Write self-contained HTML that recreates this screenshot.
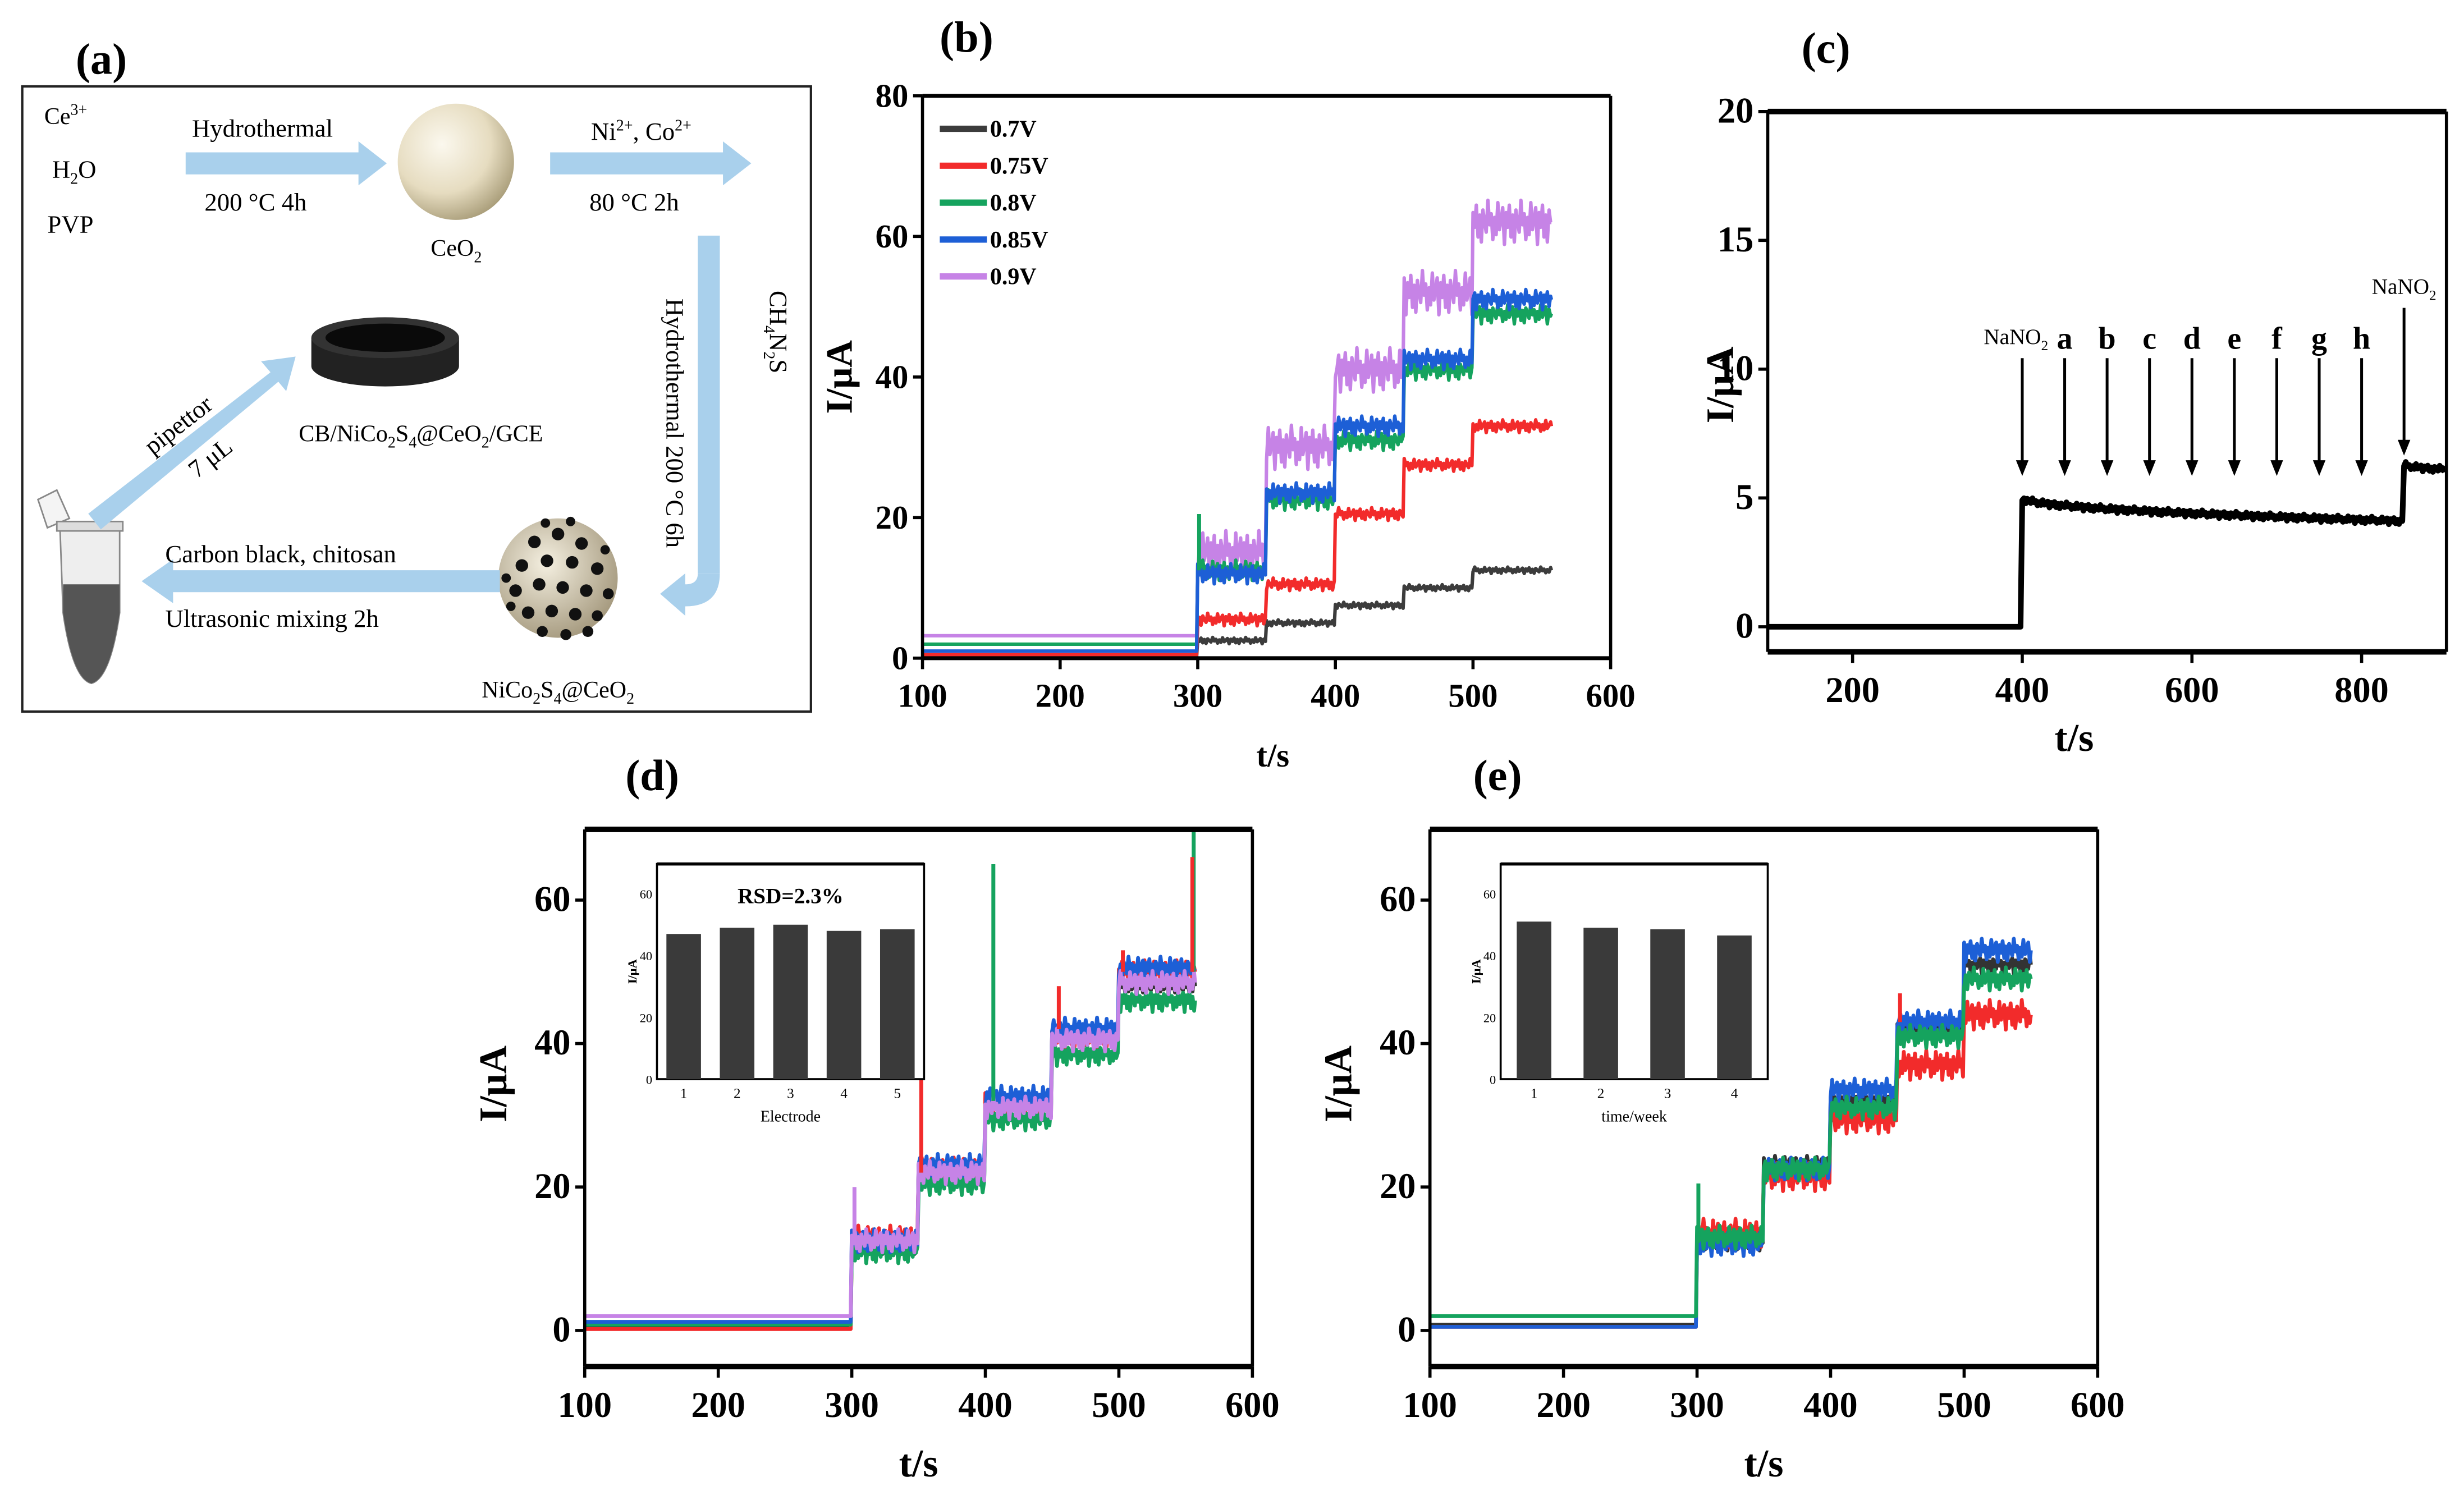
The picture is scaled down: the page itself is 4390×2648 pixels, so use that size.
<!DOCTYPE html>
<html><head><meta charset="utf-8">
<style>
html,body{margin:0;padding:0;background:#fff;}
svg{display:block;}
text{font-family:"Liberation Serif",serif;}
</style></head>
<body>
<svg id="fig" width="4390" height="2648" viewBox="0 0 1568 946" xmlns="http://www.w3.org/2000/svg">
<defs>
<radialGradient id="ceo2" cx="0.38" cy="0.35" r="0.7">
<stop offset="0" stop-color="#fbf8ee"/><stop offset="0.6" stop-color="#e6dcc0"/><stop offset="1" stop-color="#a89c78"/>
</radialGradient>
<radialGradient id="nico" cx="0.4" cy="0.38" r="0.7">
<stop offset="0" stop-color="#f4efe0"/><stop offset="1" stop-color="#a09478"/>
</radialGradient>
</defs>

<!-- Panel (a) schematic -->
<g>
<text x="48" y="47" font-size="28" font-weight="bold">(a)</text>
<rect x="14" y="55" width="502" height="398" fill="none" stroke="#222" stroke-width="1.5"/>
<text x="28" y="79" font-size="15">Ce<tspan dy="-6" font-size="10">3+</tspan></text>
<text x="33" y="113" font-size="16">H<tspan dy="4" font-size="10">2</tspan><tspan dy="-4">O</tspan></text>
<text x="30" y="148" font-size="16">PVP</text>
<text x="122" y="87" font-size="16">Hydrothermal</text>
<polygon points="118,97 228,97 228,90 246,104 228,118 228,111 118,111" fill="#a9d0ec"/>
<text x="130" y="134" font-size="16">200 °C  4h</text>
<circle cx="290" cy="103" r="37" fill="url(#ceo2)"/>
<text x="274" y="163" font-size="15">CeO<tspan dy="4" font-size="10">2</tspan></text>
<text x="376" y="89" font-size="16">Ni<tspan dy="-6" font-size="10">2+</tspan><tspan dy="6">, Co</tspan><tspan dy="-6" font-size="10">2+</tspan></text>
<polygon points="350,97 460,97 460,90 478,104 460,118 460,111 350,111" fill="#a9d0ec"/>
<text x="375" y="134" font-size="16">80 °C  2h</text>
<rect x="444" y="150" width="14" height="215" fill="#a9d0ec"/>
<path d="M444,365 Q444,372 436,372 L436,365 L420,378 L436,392 L436,386 Q458,386 458,365 Z" fill="#a9d0ec"/>
<text transform="translate(424,190) rotate(90)" font-size="16">Hydrothermal  200 °C  6h</text>
<text transform="translate(490,185) rotate(90)" font-size="16">CH<tspan dy="4" font-size="10">4</tspan><tspan dy="-4">N</tspan><tspan dy="4" font-size="10">2</tspan><tspan dy="-4">S</tspan></text>
<g>
<circle cx="355" cy="368" r="38" fill="url(#nico)"/>
<g fill="#111">
<circle cx="340" cy="345" r="4"/><circle cx="355" cy="340" r="4"/><circle cx="370" cy="346" r="4"/><circle cx="332" cy="360" r="4"/>
<circle cx="348" cy="357" r="4"/><circle cx="364" cy="358" r="4"/><circle cx="380" cy="362" r="4"/><circle cx="328" cy="376" r="4"/>
<circle cx="343" cy="372" r="4"/><circle cx="358" cy="374" r="4"/><circle cx="373" cy="376" r="4"/><circle cx="387" cy="378" r="3.5"/>
<circle cx="336" cy="390" r="4"/><circle cx="351" cy="389" r="4"/><circle cx="366" cy="391" r="4"/><circle cx="380" cy="392" r="3.5"/>
<circle cx="345" cy="402" r="3.5"/><circle cx="360" cy="404" r="3.5"/><circle cx="374" cy="402" r="3.5"/><circle cx="322" cy="368" r="3"/>
<circle cx="347" cy="333" r="3"/><circle cx="363" cy="332" r="3"/><circle cx="385" cy="350" r="3"/><circle cx="325" cy="386" r="3"/>
</g></g>
<text x="355" y="444" font-size="15" text-anchor="middle">NiCo<tspan dy="4" font-size="10">2</tspan><tspan dy="-4">S</tspan><tspan dy="4" font-size="10">4</tspan><tspan dy="-4">@CeO</tspan><tspan dy="4" font-size="10">2</tspan></text>
<polygon points="318,363 110,363 110,356 90,370 110,384 110,377 318,377" fill="#a9d0ec"/>
<text x="105" y="358" font-size="16">Carbon black, chitosan</text>
<text x="105" y="399" font-size="16">Ultrasonic mixing  2h</text>
<g>
<path d="M24,318 L36,312 L44,330 L30,336 Z" fill="#f4f4f4" stroke="#888" stroke-width="1"/>
<path d="M38,336 L76,336 L76,390 Q70,432 58,435 Q46,432 40,390 Z" fill="#eee" stroke="#888" stroke-width="1"/>
<path d="M40,372 L76,372 L76,390 Q70,432 58,435 Q46,432 40,390 Z" fill="#555"/>
<rect x="36" y="332" width="42" height="6" fill="#ddd" stroke="#888" stroke-width="1"/>
</g>
<polygon points="56,327 172,237 166,230 188,227 182,249 177,243 64,337" fill="#a9d0ec"/>
<text transform="translate(97,290) rotate(-38)" font-size="16">pipettor</text>
<text transform="translate(125,305) rotate(-38)" font-size="16">7 μL</text>
<g>
<path d="M198,215 L198,233 A47,13 0 0 0 292,233 L292,215 Z" fill="#222"/>
<ellipse cx="245" cy="215" rx="47" ry="13" fill="#333"/>
<ellipse cx="245" cy="215" rx="38" ry="9" fill="#0a0a0a"/>
</g>
<text x="190" y="281" font-size="15">CB/NiCo<tspan dy="4" font-size="10">2</tspan><tspan dy="-4">S</tspan><tspan dy="4" font-size="10">4</tspan><tspan dy="-4">@CeO</tspan><tspan dy="4" font-size="10">2</tspan><tspan dy="-4">/GCE</tspan></text>
</g>

<g id="charts"></g>
</svg>

<script>
// ---------- data ----------
const NOISE = [0.2,-0.5,0.8,-0.3,0.1,0.6,-0.9,0.4,-0.2,0.7,-0.6,0.3,-0.8,0.5,0.0,-0.4,0.9,-0.1,0.35,-0.7];

// panel b
const bStepTimes = [100,300,350,400,450,500,557];
const bSeriesNames = ['0.7V','0.75V','0.8V','0.85V','0.9V'];
const bLevels07 = [0.3,2.5,5,7.5,10,12.5];
const bLevels075 = [0.5,5.5,10.5,20.5,27.5,33];
const bLevels08 = [2,12.5,22.5,31,41,49];
const bLevels085 = [1,12,23.5,33,42.5,51];
const bLevels09 = [3.2,15,30,41,52,62];
const bNoise = [0.5,1,1.6,1.6,3.5];
const bYTicks = [0,20,40,60,80];
const bXTicks = [100,200,300,400,500,600];

// panel c
const cStepTimes = [100,400,850,900];
const cLevelStart = [0,5,6.3];
const cLevelEnd = [0,4.1,6.1];
const cArrowTimes = [400,450,500,550,600,650,700,750,800,850];
const cArrowLabels = ['NaNO2','a','b','c','d','e','f','g','h','NaNO2'];
const cYTicks = [0,5,10,15,20];
const cXTicks = [200,400,600,800];

// panel d
const dStepTimes = [100,300,350,400,450,500,557];
const dLevelsBlack = [0.5,12,22,31,41,48];
const dLevelsRed = [0.2,13,22.5,31.5,41,50];
const dLevelsGreen = [0.8,11,20.5,29.5,38.5,46];
const dLevelsBlue = [1.2,12.5,23,32.5,42,50.5];
const dLevelsPurple = [2,12.5,22,31,40.5,48.5];
const dInsetCats = ['1','2','3','4','5'];
const dInsetVals = [47,49,50,48,48.5];

// panel e
const eStepTimes = [100,300,350,400,450,500,550];
const eLevelsBlack = [0.8,12.5,23,32,42,51];
const eLevelsRed = [0.5,13.5,21.5,29.5,37,44];
const eLevelsBlue = [0.5,12,22.5,33.5,43,53];
const eLevelsGreen = [2,13,22.5,31,41,49];
const eInsetCats = ['1','2','3','4'];
const eInsetVals = [51,49,48.5,46.5];

const DEYTicks = [0,20,40,60];
const DEXTicks = [100,200,300,400,500,600];
const insetYTicks = [0,20,40,60];

// ---------- helpers ----------
const NS = 'http://www.w3.org/2000/svg';
const root = document.getElementById('charts');
function mk(tag, attrs, parent){
  const e = document.createElementNS(NS, tag);
  for (const k in attrs) e.setAttribute(k, attrs[k]);
  (parent||root).appendChild(e);
  return e;
}
function scale(d0,d1,r0,r1){ return v => r0 + (v-d0)/(d1-d0)*(r1-r0); }

function stepPath(times, levels, amp, xs, ys, dt, seed){
  let d = '';
  let i = seed;
  for (let s=0; s<levels.length; s++){
    const a = s===0 ? 0 : amp;
    for (let t=times[s]; t<times[s+1]; t+=dt){
      const v = levels[s] + a*NOISE[i%NOISE.length];
      i++;
      d += (d ? 'L' : 'M') + xs(t).toFixed(1) + ',' + ys(v).toFixed(1);
    }
  }
  const last = levels[levels.length-1];
  d += 'L' + xs(times[times.length-1]).toFixed(1) + ',' + ys(last).toFixed(1);
  return d;
}

function axesFrame(g, L, R, T, B, thick){
  let e;
  e = mk('line',{x1:L,y1:T,x2:R,y2:T,stroke:'#000','stroke-width':thick},g);
  
  
  e = mk('line',{x1:L,y1:B,x2:R,y2:B,stroke:'#000','stroke-width':thick},g);
  
  
  e = mk('line',{x1:L,y1:T,x2:L,y2:B,stroke:'#000','stroke-width':2},g);
  
  
  e = mk('line',{x1:R,y1:T,x2:R,y2:B,stroke:'#000','stroke-width':2},g);
  
  
}
function xTicksDraw(g, ticks, xs, B, ly, fs){
  ticks.forEach(t=>{
    let e = mk('line',{x1:xs(t),y1:B,x2:xs(t),y2:B+7,stroke:'#000','stroke-width':2},g);
    
    
    e = mk('text',{x:xs(t),y:ly,'font-size':fs,'font-weight':'bold','text-anchor':'middle'},g);
    e.textContent = t;
    
    
  });
}
function yTicksDraw(g, ticks, ys, L, fs){
  ticks.forEach(t=>{
    let e = mk('line',{x1:L-6,y1:ys(t),x2:L,y2:ys(t),stroke:'#000','stroke-width':2},g);
    
    
    e = mk('text',{x:L-9,y:ys(t)+7,'font-size':fs,'font-weight':'bold','text-anchor':'end'},g);
    e.textContent = t;
    
    
  });
}
function label(g, x, y, txt, fs, rot, name){
  const e = mk('text',{x:x,y:y,'font-size':fs,'font-weight':'bold','text-anchor':'middle'},g);
  if (rot) e.setAttribute('transform','rotate(-90 '+x+' '+y+')');
  e.textContent = txt;
  
  
  return e;
}

// ---------- panel b ----------
(function(){
  const g = mk('g',{});
  
  
  const L=587,R=1025,T=61,B=419;
  const xs = scale(100,600,L,R), ys = scale(0,80,B,T);
  label(g,615,33,'(b)',28,false,'panel-b-label');
  const cols = ['#3c3c3c','#f22b2b','#15a35e','#1d5fd6','#c683e6'];
  const lv = [bLevels07,bLevels075,bLevels08,bLevels085,bLevels09];
  [4,0,1,2,3].forEach((k)=>{
    const p = mk('path',{d:stepPath(bStepTimes,lv[k],bNoise[k],xs,ys,1.2,k*3),fill:'none',stroke:cols[k],'stroke-width':2.2,'stroke-linejoin':'round'},g);
    
    
  });
  let sp = mk('line',{x1:xs(301),y1:ys(12.5),x2:xs(301),y2:ys(20.5),stroke:'#15a35e','stroke-width':2.5},g);
  
  
  axesFrame(g,L,R,T,B,2.5);
  xTicksDraw(g,bXTicks,xs,B,450,21);
  yTicksDraw(g,bYTicks,ys,L,21);
  label(g,810,488,'t/s',21,false,'x-axis-title');
  label(g,542,240,'I/μA',24,true,'y-axis-title');
  bSeriesNames.forEach((n,k)=>{
    const y = 82 + k*23.5;
    let e = mk('line',{x1:598,y1:y,x2:628,y2:y,stroke:cols[k],'stroke-width':4},g);
    
    
    e = mk('text',{x:630,y:y+5,'font-size':15,'font-weight':'bold'},g);
    e.textContent = n;
    
    
  });
})();

// ---------- panel c ----------
(function(){
  const g = mk('g',{});
  
  
  const L=1125,R=1557,T=71,B=415;
  const xs = scale(100,900,L,R), ys = scale(0,20,399,T);
  label(g,1162,40,'(c)',28,false,'panel-c-label');
  let d='', i=0;
  for (let s=0;s<cLevelStart.length;s++){
    const t0=cStepTimes[s], t1=cStepTimes[s+1];
    for (let t=t0;t<t1;t+=2){
      const f=(t-t0)/(t1-t0);
      const base = cLevelStart[s] + (cLevelEnd[s]-cLevelStart[s])*Math.sqrt(f);
      const v = base + (s===0?0:0.15*NOISE[i%NOISE.length]); i++;
      d += (d?'L':'M')+xs(t).toFixed(1)+','+ys(v).toFixed(1);
    }
  }
  const p = mk('path',{d:d,fill:'none',stroke:'#000','stroke-width':3.6,'stroke-linejoin':'round'},g);
  
  
  axesFrame(g,L,R,T,B,3.5);
  xTicksDraw(g,cXTicks,xs,B,447,23);
  yTicksDraw(g,cYTicks,ys,L,23);
  label(g,1320,478,'t/s',25,false,'x-axis-title');
  label(g,1103,245,'I/μA',25,true,'y-axis-title');
  cArrowTimes.forEach((t,k)=>{
    const last = k===cArrowTimes.length-1;
    const top = last ? 196 : 228, tip = last ? 290 : 303;
    const x = xs(t);
    let e = mk('line',{x1:x,y1:top,x2:x,y2:tip-9,stroke:'#000','stroke-width':1.8},g);
    
    
    e = mk('polygon',{points:(x-4)+','+(tip-10)+' '+(x+4)+','+(tip-10)+' '+x+','+tip,fill:'#000'},g);
    
    
    const lab = cArrowLabels[k];
    if (lab==='NaNO2'){
      e = mk('text',{x:x-(last?0:4),y:top-9,'font-size':14,'text-anchor':'middle'},g);
      e.innerHTML = 'NaNO<tspan dy="4" font-size="9">2</tspan>';
    } else {
      e = mk('text',{x:x,y:top-6,'font-size':20,'font-weight':'bold','text-anchor':'middle'},g);
      e.textContent = lab;
    }
    
    
  });
})();

// ---------- panels d, e ----------
function panelDE(opt){
  const g = mk('g',{});
  
  
  const L=opt.L,R=opt.L+425,T=528,B=870;
  const xs = scale(100,600,L,R), ys = scale(0,60,847,573);
  label(g,opt.L+43,503,opt.tag,28,false,opt.name+'-label');
  opt.series.forEach((s,k)=>{
    const p = mk('path',{d:stepPath(opt.times,s.levels,s.amp,xs,ys,1.2,k*5),fill:'none',stroke:s.color,'stroke-width':2.4,'stroke-linejoin':'round'},g);
    
    
  });
  opt.spikes.forEach(sk=>{
    const e = mk('line',{x1:xs(sk[0]),y1:ys(sk[1]),x2:xs(sk[0]),y2:ys(sk[2]),stroke:sk[3],'stroke-width':2.5},g);
    
    
  });
  axesFrame(g,L,R,T,B,3.5);
  xTicksDraw(g,DEXTicks,xs,B,902,23);
  yTicksDraw(g,DEYTicks,ys,L,23);
  label(g,(L+R)/2,940,'t/s',25,false,'x-axis-title');
  label(g,L-50,690,'I/μA',25,true,'y-axis-title');
  const IL=opt.iL, IR=opt.iL+170, IT=550, IB=687;
  const ig = mk('g',{},g);
  
  
  let e = mk('rect',{x:IL,y:IT,width:IR-IL,height:IB-IT,fill:'#fff',stroke:'#000','stroke-width':1.3},ig);
  
  
  e = mk('line',{x1:IL,y1:IT,x2:IR,y2:IT,stroke:'#000','stroke-width':2},ig);
  
  
  const iys = scale(0,60,IB,569);
  const n = opt.cats.length;
  const band = (IR-IL)/n;
  opt.cats.forEach((c,k)=>{
    const cx = IL + band*(k+0.5);
    let b = mk('rect',{x:cx-11,y:iys(opt.vals[k]),width:22,height:IB-iys(opt.vals[k]),fill:'#3a3a3a'},ig);
    
    
    b = mk('text',{x:cx,y:IB+12,'font-size':9,'text-anchor':'middle'},ig);
    b.textContent = c;
    
    
  });
  insetYTicks.forEach(t=>{
    const tt = mk('text',{x:IL-3,y:iys(t)+3,'font-size':8,'text-anchor':'end'},ig);
    tt.textContent = t;
    
    
  });
  e = mk('text',{x:IL-13,y:(IT+IB)/2,'font-size':8,'font-weight':'bold','text-anchor':'middle',transform:'rotate(-90 '+(IL-13)+' '+((IT+IB)/2)+')'},ig);
  e.textContent='I/μA';
  
  
  e = mk('text',{x:(IL+IR)/2,y:IB+27,'font-size':10,'text-anchor':'middle'},ig);
  e.textContent=opt.ixTitle;
  
  
  if (opt.rsd){
    e = mk('text',{x:(IL+IR)/2,y:575,'font-size':14,'font-weight':'bold','text-anchor':'middle'},ig);
    e.textContent=opt.rsd;
    
    
  }
}
panelDE({name:'panel-d-chart',tag:'(d)',L:372,iL:418,times:dStepTimes,
  series:[
    {key:'electrode-1',levels:dLevelsBlack,color:'#333',amp:1.5},
    {key:'electrode-2',levels:dLevelsRed,color:'#f22b2b',amp:1.8},
    {key:'electrode-3',levels:dLevelsGreen,color:'#15a35e',amp:1.8},
    {key:'electrode-4',levels:dLevelsBlue,color:'#1d5fd6',amp:1.8},
    {key:'electrode-5',levels:dLevelsPurple,color:'#c683e6',amp:1.8}],
  spikes:[[302,12,20,'#c683e6'],[352,22,38,'#f22b2b'],[406,32,65,'#15a35e'],[455,42,48,'#f22b2b'],[503,50,53,'#f22b2b'],[556,50,70,'#15a35e'],[555,50,66,'#f22b2b']],
  cats:dInsetCats,vals:dInsetVals,ixTitle:'Electrode',rsd:'RSD=2.3%'});
panelDE({name:'panel-e-chart',tag:'(e)',L:910,iL:955,times:eStepTimes,
  series:[
    {key:'week-1',levels:eLevelsBlack,color:'#333',amp:1.5},
    {key:'week-2',levels:eLevelsRed,color:'#f22b2b',amp:2.3},
    {key:'week-3',levels:eLevelsBlue,color:'#1d5fd6',amp:1.8},
    {key:'week-4',levels:eLevelsGreen,color:'#15a35e',amp:1.8}],
  spikes:[[301,13,20.5,'#15a35e'],[452,43,47,'#f22b2b']],
  cats:eInsetCats,vals:eInsetVals,ixTitle:'time/week',rsd:null});
</script>
</body></html>
